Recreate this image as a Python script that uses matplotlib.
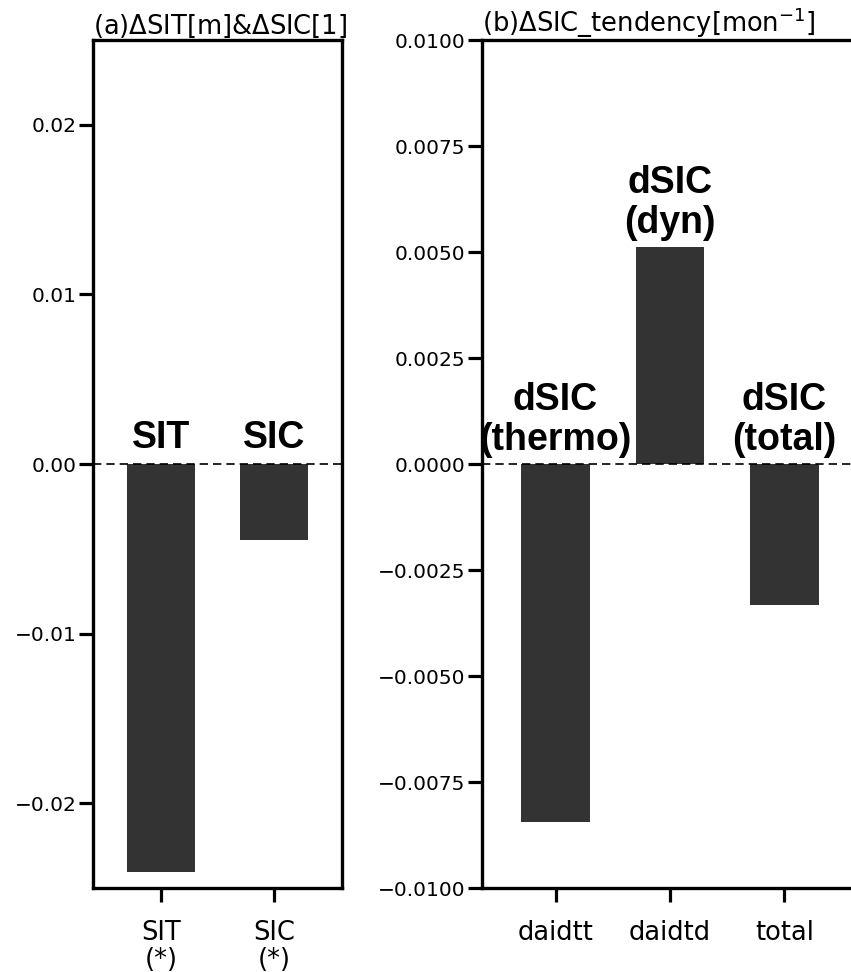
import matplotlib
matplotlib.use("Agg")
import matplotlib.pyplot as plt
import numpy as np

# Panel (a)
a_labels = ["SIT\n(*)", "SIC\n(*)"]
a_names = ["SIT", "SIC"]
a_values = [-0.02408, -0.0045]

# Panel (b)
b_labels = ["daidtt", "daidtd", "total"]
b_names = ["dSIC\n(thermo)", "dSIC\n(dyn)", "dSIC\n(total)"]
b_values = [-0.00844, 0.00512, -0.00333]

bar_color = "#333333"
W, H = 851, 972
fig = plt.figure(figsize=(W / 100, H / 100), dpi=100)

ax1 = fig.add_axes([93 / W, (H - 888) / H, 249 / W, 848 / H])
ax2 = fig.add_axes([482 / W, (H - 888) / H, 376 / W, 848 / H])

label_font = dict(family=["Liberation Sans", "DejaVu Sans"], fontweight="bold",
                  fontsize=27, ha="center", va="bottom", linespacing=1.15)

def style(ax):
    for s in ax.spines.values():
        s.set_linewidth(2.4)
    ax.tick_params(axis="y", labelsize=14.5, length=10, width=2.3, pad=2)
    ax.tick_params(axis="x", labelsize=18.5, length=10, width=2.3, pad=13)
    ax.axhline(0, color="black", linestyle="--", linewidth=1.2, dashes=(5, 3))

# (a)
xa = np.arange(len(a_values))
ax1.bar(xa, a_values, width=0.6, color=bar_color, zorder=1)
ax1.set_xlim(-0.6, 1.6)
ax1.set_ylim(-0.025, 0.025)
ax1.set_yticks([-0.02, -0.01, 0.0, 0.01, 0.02])
ax1.set_xticks(xa)
ax1.set_xticklabels(a_labels, linespacing=1.05)
style(ax1)
for x, v, n in zip(xa, a_values, a_names):
    ax1.annotate(n, (x, max(v, 0)), xytext=(0, 6), textcoords="offset points", **label_font)
ax1.set_title(r"(a)$\Delta$SIT[m]&$\Delta$SIC[1]", loc="left", fontsize=18.5, pad=2)

# (b)
xb = np.arange(len(b_values))
ax2.bar(xb, b_values, width=0.6, color=bar_color, zorder=1)
ax2.set_xlim(-0.642, 2.642)
ax2.set_ylim(-0.01, 0.01)
ax2.set_yticks([-0.01, -0.0075, -0.005, -0.0025, 0.0, 0.0025, 0.005, 0.0075, 0.01])
ax2.set_yticklabels([f"{v:.4f}".replace("-", "\u2212") for v in ax2.get_yticks()])
ax2.set_xticks(xb)
ax2.set_xticklabels(b_labels)
style(ax2)
for x, v, n in zip(xb, b_values, b_names):
    ax2.annotate(n, (x, max(v, 0)), xytext=(0, 4), textcoords="offset points", **label_font)
ax2.set_title(r"(b)$\Delta$SIC_tendency[mon$^{-1}$]", loc="left", fontsize=18.5, pad=2)

fig.savefig("out.png", dpi=100)
